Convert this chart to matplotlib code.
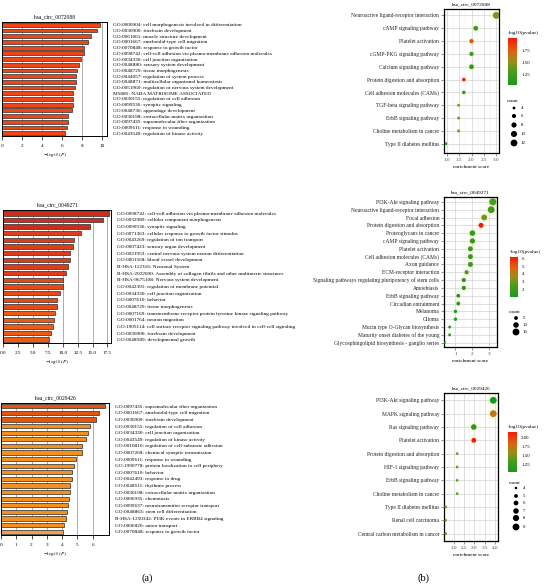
import numpy as np
import matplotlib
matplotlib.use("Agg")
import matplotlib.pyplot as plt
from matplotlib.colors import LinearSegmentedColormap, Normalize
from matplotlib.cm import ScalarMappable

plt.rcParams['font.family'] = ['Liberation Serif', 'DejaVu Serif']
plt.rcParams['mathtext.fontset'] = 'stix'

W, H = 546, 585

# ---- (a) Metascape bar charts ----
a1_title = "hsa_circ_0072088"
a1_terms = [
    "GO:0000904: cell morphogenesis involved in differentiation",
    "GO:0030900: forebrain development",
    "GO:0061061: muscle structure development",
    "GO:0001667: ameboidal-type cell migration",
    "GO:0070848: response to growth factor",
    "GO:0098742: cell-cell adhesion via plasma-membrane adhesion molecules",
    "GO:0034330: cell junction organization",
    "GO:0048880: sensory system development",
    "GO:0048729: tissue morphogenesis",
    "GO:0044057: regulation of system process",
    "GO:0048871: multicellular organismal homeostasis",
    "GO:0051960: regulation of nervous system development",
    "M5885: NABA MATRISOME ASSOCIATED",
    "GO:0030155: regulation of cell adhesion",
    "GO:0099536: synaptic signaling",
    "GO:0048736: appendage development",
    "GO:0030198: extracellular matrix organization",
    "GO:0097435: supramolecular fiber organization",
    "GO:0009611: response to wounding",
    "GO:0043549: regulation of kinase activity",
]
a1_logp = [9.8, 9.5, 8.9, 8.55, 8.2, 8.15, 7.9, 7.7, 7.5, 7.4,
           7.35, 7.3, 7.1, 7.1, 7.1, 6.95, 6.6, 6.55, 6.5, 6.3]

a2_title = "hsa_circ_0049271"
a2_terms = [
    "GO:0098742: cell-cell adhesion via plasma-membrane adhesion molecules",
    "GO:0032989: cellular component morphogenesis",
    "GO:0099536: synaptic signaling",
    "GO:0071363: cellular response to growth factor stimulus",
    "GO:0043269: regulation of ion transport",
    "GO:0007423: sensory organ development",
    "GO:0021953: central nervous system neuron differentiation",
    "GO:0001568: blood vessel development",
    "R-HSA-112316: Neuronal System",
    "R-HSA-2022090: Assembly of collagen fibrils and other multimeric structures",
    "R-HSA-9675108: Nervous system development",
    "GO:0042391: regulation of membrane potential",
    "GO:0034330: cell junction organization",
    "GO:0007610: behavior",
    "GO:0048729: tissue morphogenesis",
    "GO:0007169: transmembrane receptor protein tyrosine kinase signaling pathway",
    "GO:0001764: neuron migration",
    "GO:1905114: cell surface receptor signaling pathway involved in cell-cell signaling",
    "GO:0030900: forebrain development",
    "GO:0048589: developmental growth",
]
a2_logp = [17.7, 16.7, 14.5, 13.1, 11.9, 11.7, 11.2, 11.2, 10.9, 10.5,
           10.1, 10.0, 9.5, 9.1, 9.0, 8.7, 8.5, 8.3, 8.0, 7.7]

a3_title = "hsa_circ_0029426"
a3_terms = [
    "GO:0097435: supramolecular fiber organization",
    "GO:0001667: ameboidal-type cell migration",
    "GO:0030900: forebrain development",
    "GO:0030155: regulation of cell adhesion",
    "GO:0034330: cell junction organization",
    "GO:0043549: regulation of kinase activity",
    "GO:0010810: regulation of cell-substrate adhesion",
    "GO:0007268: chemical synaptic transmission",
    "GO:0009611: response to wounding",
    "GO:1990778: protein localization to cell periphery",
    "GO:0007610: behavior",
    "GO:0042493: response to drug",
    "GO:0048511: rhythmic process",
    "GO:0030198: extracellular matrix organization",
    "GO:0006935: chemotaxis",
    "GO:0099637: neurotransmitter receptor transport",
    "GO:0048863: stem cell differentiation",
    "R-HSA-1250342: PI3K events in ERBB4 signaling",
    "GO:0006820: anion transport",
    "GO:0070848: response to growth factor",
]
a3_logp = [6.78, 6.4, 6.24, 5.8, 5.69, 5.58, 5.3, 5.3, 4.92, 4.81,
           4.64, 4.64, 4.53, 4.49, 4.44, 4.38, 4.33, 4.24, 4.11, 4.03]

# ---- (b) KEGG bubble charts ----
b1_title = "hsa_circ_0072088"
b1_paths = [
    "Neuroactive ligand-receptor interaction", "cAMP signaling pathway",
    "Platelet activation", "cGMP-PKG signaling pathway",
    "Calcium signaling pathway", "Protein digestion and absorption",
    "Cell adhesion molecules (CAMs)", "TGF-beta signaling pathway",
    "ErbB signaling pathway", "Choline metabolism in cancer",
    "Type II diabetes mellitus",
]
b1_score = [3.0, 2.17, 2.0, 2.0, 2.0, 1.69, 1.69, 1.48, 1.48, 1.48, 0.97]
b1_logp = [1.45, 1.2, 1.8, 1.22, 1.15, 2.0, 1.15, 1.4, 1.4, 1.3, 1.05]
b1_count = [12, 7, 6, 6, 7, 5, 5, 4, 4, 4, 4]

b2_title = "hsa_circ_0049271"
b2_paths = [
    "PI3K-Akt signaling pathway", "Neuroactive ligand-receptor interaction",
    "Focal adhesion", "Protein digestion and absorption",
    "Proteoglycans in cancer", "cAMP signaling pathway",
    "Platelet activation", "Cell adhesion molecules (CAMs)",
    "Axon guidance", "ECM-receptor interaction",
    "Signaling pathways regulating pluripotency of stem cells",
    "Amoebiasis", "ErbB signaling pathway", "Circadian entrainment",
    "Melanoma", "Glioma", "Mucin type O-Glycan biosynthesis",
    "Maturity onset diabetes of the young",
    "Glycosphingolipid biosynthesis - ganglio series",
]
b2_score = [3.25, 3.15, 2.73, 2.54, 2.02, 2.02, 1.9, 1.9, 1.9, 1.67,
            1.5, 1.5, 1.17, 1.17, 1.0, 1.0, 0.65, 0.65, 0.36]
b2_logp = [2.3, 2.2, 3.0, 6.18, 1.8, 1.8, 1.8, 1.7, 1.7, 2.3,
           1.5, 1.5, 1.3, 1.3, 1.2, 1.2, 1.4, 1.4, 1.0]
b2_count = [16, 15, 11, 8, 10, 9, 8, 8, 8, 6, 6, 6, 5, 5, 4, 4, 3, 3, 2]

b3_title = "hsa_circ_0029426"
b3_paths = [
    "PI3K-Akt signaling pathway", "MAPK signaling pathway",
    "Ras signaling pathway", "Platelet activation",
    "Protein digestion and absorption", "HIF-1 signaling pathway",
    "ErbB signaling pathway", "Choline metabolism in cancer",
    "Type II diabetes mellitus", "Renal cell carcinoma",
    "Central carbon metabolism in cancer",
]
b3_score = [3.92, 3.92, 2.97, 2.97, 2.16, 2.16, 2.16, 2.16, 1.6, 1.6, 1.6]
b3_logp = [1.04, 1.72, 1.12, 2.14, 1.42, 1.38, 1.4, 1.35, 1.45, 1.45, 1.45]
b3_count = [9, 9, 7, 6, 4, 4, 4, 4, 4, 4, 4]

fig = plt.figure(figsize=(W / 100, H / 100), dpi=100)


def pax(x0, y0, x1, y1):
    return fig.add_axes([x0 / W, 1 - y1 / H, (x1 - x0) / W, (y1 - y0) / H])


def bar_panel(box, title, terms, vals, xmax, xticks, xticklabels, colors):
    ax = pax(*box)
    y = np.arange(len(terms))
    ax.barh(y, vals, height=0.66, color=colors, edgecolor='#3a3a3a',
            linewidth=0.55, zorder=2)
    ax.set_xlim(0, xmax)
    ax.set_ylim(len(terms) - 0.5, -0.5)
    ax.set_xticks(xticks)
    ax.set_xticklabels(xticklabels, fontsize=3.7)
    ax.tick_params(axis='x', length=2.8, width=0.5, pad=3.2)
    ax.yaxis.tick_right()
    ax.set_yticks(y)
    ax.set_yticklabels(terms, fontsize=3.8)
    ax.tick_params(axis='y', length=0, pad=4.2)
    ax.grid(axis='x', color='#8a8a8a', linewidth=0.5)
    ax.set_axisbelow(True)
    for s in ax.spines.values():
        s.set_linewidth(0.7)
    ax.set_title(title, fontsize=4.0, pad=2.5)
    ax.set_xlabel(r'$-\log_{10}(P)$', fontsize=3.9, labelpad=2)
    return ax


a1_colors = ['#EE4618'] * len(a1_logp)
a2_colors = ['#CF2C1E' if v >= 14 else '#DE3C1A' if v >= 10.4
             else '#E84A16' if v >= 9 else '#F05A12' for v in a2_logp]
a3_colors = ['#E6550F' if v >= 6 else '#F5901F' if v >= 4.05
             else '#EEA24E' for v in a3_logp]

bar_panel((2, 22, 107, 136), a1_title, a1_terms, a1_logp, 10.5,
          [0, 2, 4, 6, 8, 10], ['0', '2', '4', '6', '8', '10'], a1_colors)
bar_panel((3, 210, 111, 343), a2_title, a2_terms, a2_logp, 18.1,
          [0, 2.5, 5, 7.5, 10, 12.5, 15, 17.5],
          ['0.0', '2.5', '5.0', '7.5', '10.0', '12.5', '15.0', '17.5'], a2_colors)
bar_panel((1, 403, 109, 535), a3_title, a3_terms, a3_logp, 7.07,
          [0, 1, 2, 3, 4, 5, 6], ['0', '1', '2', '3', '4', '5', '6'], a3_colors)

cmap = LinearSegmentedColormap.from_list(
    'gr', [(0.0, '#169a1a'), (0.3, '#4f9c1c'), (0.5, '#9a8e18'),
           (0.72, '#e0620e'), (1.0, '#f5180a')])

overlay = fig.add_axes([0, 0, 1, 1], zorder=10)
overlay.set_xlim(0, W)
overlay.set_ylim(H, 0)
overlay.axis('off')


def size_fn(c, cmin, cmax, smin, smax):
    c = np.asarray(c, dtype=float)
    return smin + (smax - smin) * (c - cmin) / (cmax - cmin)


def bubble_panel(box, title, paths, score, logp, count, xlim, ylim, xticks,
                 xticklabels, minor, cbox, vmin, vmax, cticks, cfmt,
                 legx, legtitle_y, leg_y, leg_vals, smin, smax):
    ax = pax(*box)
    n = len(paths)
    y = n - 1 - np.arange(n)
    cmin, cmax = min(count), max(count)
    norm = Normalize(vmin, vmax)
    sizes = size_fn(count, cmin, cmax, smin, smax)
    # faint halo around each point
    ax.scatter(score, y, s=sizes * 3.2, color='#f3f0c8', alpha=0.45,
               zorder=2, linewidths=0)
    ax.scatter(score, y, s=sizes, c=logp, cmap=cmap, norm=norm, zorder=3,
               linewidths=0)
    ax.set_xlim(*xlim)
    ax.set_ylim(*ylim)
    ax.set_yticks(y)
    ax.set_yticklabels(paths, fontsize=4.0, color='#222222')
    ax.set_xticks(xticks)
    ax.set_xticklabels(xticklabels, fontsize=3.7, color='#444444')
    ax.set_xticks(minor, minor=True)
    ax.tick_params(axis='both', which='major', length=2, width=0.4, pad=1.5,
                   color='#444444')
    ax.tick_params(axis='x', which='minor', length=0)
    ax.grid(which='major', color='#d2d2d2', linewidth=0.5)
    ax.grid(which='minor', axis='x', color='#ebebeb', linewidth=0.35)
    ax.set_axisbelow(True)
    for s in ax.spines.values():
        s.set_linewidth(0.9)
    ax.set_title(title, fontsize=3.8, pad=2.5)
    ax.set_xlabel('enrichment score', fontsize=3.8, labelpad=2)

    cax = pax(*cbox)
    cb = fig.colorbar(ScalarMappable(norm=norm, cmap=cmap), cax=cax)
    cb.set_ticks(cticks)
    cb.set_ticklabels([cfmt.format(t) for t in cticks])
    cb.outline.set_visible(False)
    cax.tick_params(labelsize=3.5, length=1.5, width=0.4, color='white', pad=1.5)
    overlay.text(cbox[0], cbox[1] - 3, '-log10(pvalue)', fontsize=3.7,
                 ha='left', va='bottom')

    overlay.text(legx - 7, legtitle_y, 'count', fontsize=3.7, ha='left',
                 va='center')
    overlay.scatter([legx] * len(leg_vals), leg_y,
                    s=size_fn(leg_vals, cmin, cmax, smin, smax),
                    color='black', linewidths=0)
    for v, yy in zip(leg_vals, leg_y):
        overlay.text(legx + 7, yy, str(v), fontsize=3.5, ha='left',
                     va='center')


bubble_panel((444, 9, 499, 153), b1_title, b1_paths, b1_score, b1_logp,
             b1_count, (0.89, 3.11), (-0.72, 10.5),
             [1.0, 1.5, 2.0, 2.5, 3.0], ['1.0', '1.5', '2.0', '2.5', '3.0'],
             [1.25, 1.75, 2.25, 2.75], (508, 38, 517, 85), 1.045, 2.0,
             [1.25, 1.5, 1.75], '{:.2f}', 514, 101,
             [108, 116, 125, 134, 143], [4, 6, 8, 10, 12], 4, 24)

bubble_panel((444, 197, 497, 347), b2_title, b2_paths, b2_score, b2_logp,
             b2_count, (0.31, 3.38), (-0.55, 18.62),
             [1, 2, 3], ['1', '2', '3'], [0.5, 1.5, 2.5, 3.5],
             (510, 257, 518, 297), 0.99, 6.18, [2, 3, 4, 5, 6], '{:d}',
             516, 312, [318, 325, 332], [5, 10, 15], 2.5, 26)

bubble_panel((444, 393, 498, 541), b3_title, b3_paths, b3_score, b3_logp,
             b3_count, (1.52, 4.15), (-0.55, 10.55),
             [2.0, 2.5, 3.0, 3.5, 4.0], ['2.0', '2.5', '3.0', '3.5', '4.0'],
             [1.75, 2.25, 2.75, 3.25, 3.75], (508, 432, 517, 472), 1.04, 2.14,
             [1.25, 1.5, 1.75, 2.0], '{:.2f}', 516, 483,
             [488, 496, 503, 511, 518, 527], [4, 5, 6, 7, 8, 9], 3.5, 24)

overlay.text(147, 578, '(a)', fontsize=7.5, ha='center', va='center')
overlay.text(423, 578, '(b)', fontsize=7.5, ha='center', va='center')

fig.savefig('out.png', dpi=100)
